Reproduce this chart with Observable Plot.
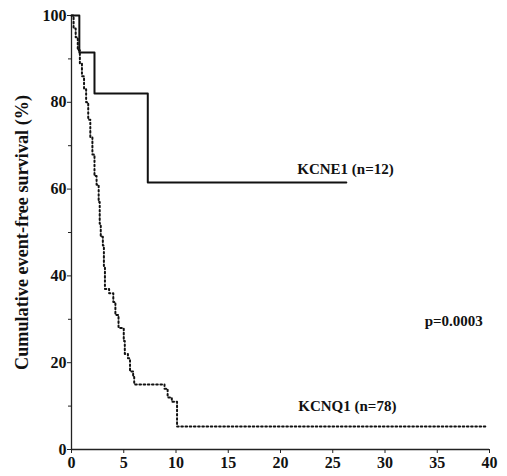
<!DOCTYPE html>
<html>
<head>
<meta charset="utf-8">
<script src="https://cdn.jsdelivr.net/npm/d3@7"></script>
<script src="https://cdn.jsdelivr.net/npm/@observablehq/plot@0.6"></script>
<style>
  html, body { margin: 0; padding: 0; background: #fff; }
</style>
</head>
<body>
<div id="chart"></div>
<script>
// KCNE1 (n=12) Kaplan-Meier steps
const kcne1Time = [0, 0.75, 2.2, 7.3, 26.3];
const kcne1Surv = [100, 91.5, 82, 61.5, 61.5];

// KCNQ1 (n=78) Kaplan-Meier steps
const kcnq1Time = [0, 0.2, 0.4, 0.6, 0.8, 1.0, 1.2, 1.4, 1.6, 1.8, 2.0, 2.2, 2.4, 2.6, 2.7, 2.8, 3.0, 3.1, 3.2, 3.6, 4.0, 4.2, 4.5, 5.0, 5.1, 5.4, 5.6, 5.9, 6.0, 8.9, 9.2, 9.6, 10.1, 39.7];
const kcnq1Surv = [100, 97, 95, 92, 89, 86, 83, 80, 76, 72, 68, 63, 61, 57, 52, 49, 47, 42, 37, 36, 34, 31, 28, 25, 22, 21, 18, 17, 15, 14, 12, 11, 5.3, 5.3];

const xTicks = [0, 5, 10, 15, 20, 25, 30, 35, 40];
const yTicks = [0, 20, 40, 60, 80, 100];
const yMinorTicks = [10, 30, 50, 70, 90];

const labelText = ["KCNE1 (n=12)", "KCNQ1 (n=78)", "p=0.0003"];
const labelX = [21.6, 21.7, 33.8];
const labelY = [64.5, 10, 29.5];

const yAxisTitle = "Cumulative event-free survival (%)";

const kcne1 = kcne1Time.map((t, i) => ({t, s: kcne1Surv[i]}));
const kcnq1 = kcnq1Time.map((t, i) => ({t, s: kcnq1Surv[i]}));
const labels = labelText.map((text, i) => ({text, x: labelX[i], y: labelY[i]}));

const chart = Plot.plot({
  width: 507,
  height: 476,
  marginLeft: 71,
  marginRight: 18,
  marginTop: 15,
  marginBottom: 27,
  style: {fontFamily: "Liberation Serif", fontWeight: "bold", fontSize: "16px", color: "#111", background: "#fff"},
  x: {domain: [0, 40]},
  y: {domain: [0, 100]},
  marks: [
    Plot.ruleX([0], {stroke: "#222", strokeWidth: 1.3}),
    Plot.ruleY([0], {stroke: "#222", strokeWidth: 1.3}),
    Plot.axisY({ticks: yTicks, tickSize: 4, tickPadding: 1, label: yAxisTitle, labelAnchor: "center", labelOffset: 56, labelArrow: "none", stroke: "#222"}),
    Plot.axisY({ticks: yMinorTicks, tickSize: 3, tickFormat: () => "", label: null, stroke: "#222"}),
    Plot.axisX({ticks: xTicks, tickSize: 4, tickPadding: 3, label: null, stroke: "#222"}),
    Plot.line(kcnq1, {x: "t", y: "s", curve: "step-after", stroke: "#111", strokeWidth: 2, strokeDasharray: "1.6,2.6"}),
    Plot.line(kcne1, {x: "t", y: "s", curve: "step-after", stroke: "#111", strokeWidth: 2}),
    Plot.text(labels, {x: "x", y: "y", text: "text", textAnchor: "start", fontSize: 15, fill: "#111"})
  ]
});
d3.select(chart).selectAll('g[aria-label="y-axis label"]').attr("font-size", 18.2);
document.getElementById("chart").appendChild(chart);
</script>
</body>
</html>
